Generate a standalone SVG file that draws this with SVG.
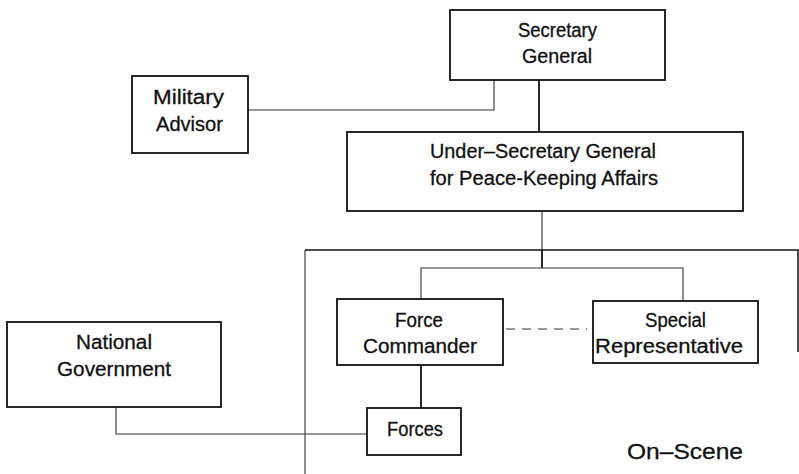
<svg xmlns="http://www.w3.org/2000/svg" width="799" height="474" viewBox="0 0 799 474">
<style>
.box{fill:#fff;stroke:#111;stroke-width:1.8}
.t{font-family:"Liberation Sans",Arial,sans-serif;font-size:20px;fill:#111;stroke:#111;stroke-width:0.3}
.c{fill:none;stroke:#333;stroke-width:1.1}
.ck{fill:none;stroke:#111;stroke-width:1.8}
</style>
<rect width="799" height="474" fill="#fff"/>
<g id="connectors">
<polyline class="c" points="248,110 494,110 494,80"/>
<line class="ck" x1="539" y1="80" x2="539" y2="132"/>
<line class="c" x1="542" y1="211" x2="542" y2="250"/>
<polyline class="c" points="305,474 305,250"/>
<polyline class="ck" points="305,250 798,250 798,352" style="stroke-width:1.5"/>
<line class="ck" x1="542" y1="250" x2="542" y2="268"/>
<polyline class="c" points="421,299 421,268 683,268 683,301"/>
<line class="c" x1="506" y1="329" x2="587" y2="329" stroke-dasharray="9,7"/>
<line class="ck" x1="421" y1="365" x2="421" y2="408"/>
<polyline class="c" points="116,407 116,434 367,434"/>
</g>
<g id="secretary-general">
<rect class="box" x="450" y="10" width="215" height="70"/>
<text class="t" x="518" y="37" textLength="79" lengthAdjust="spacingAndGlyphs">Secretary</text>
<text class="t" x="522" y="63" textLength="70" lengthAdjust="spacingAndGlyphs">General</text>
</g>
<g id="military-advisor">
<rect class="box" x="132" y="76" width="116" height="77"/>
<text class="t" x="153" y="104" textLength="71" lengthAdjust="spacingAndGlyphs">Military</text>
<text class="t" x="156" y="131" textLength="67" lengthAdjust="spacingAndGlyphs">Advisor</text>
</g>
<g id="under-secretary">
<rect class="box" x="347" y="132" width="396" height="79"/>
<text class="t" x="430" y="158" textLength="226" lengthAdjust="spacingAndGlyphs">Under–Secretary General</text>
<text class="t" x="430" y="185" textLength="228" lengthAdjust="spacingAndGlyphs">for Peace-Keeping Affairs</text>
</g>
<g id="force-commander">
<rect class="box" x="337" y="299" width="166" height="66"/>
<text class="t" x="395" y="327" textLength="48" lengthAdjust="spacingAndGlyphs">Force</text>
<text class="t" x="363" y="353" textLength="114" lengthAdjust="spacingAndGlyphs">Commander</text>
</g>
<g id="special-representative">
<rect class="box" x="593" y="301" width="165" height="62"/>
<text class="t" x="645" y="327" textLength="61" lengthAdjust="spacingAndGlyphs">Special</text>
<text class="t" x="595" y="353" textLength="148" lengthAdjust="spacingAndGlyphs">Representative</text>
</g>
<g id="national-government">
<rect class="box" x="7" y="322" width="214" height="85"/>
<text class="t" x="76" y="349" textLength="76" lengthAdjust="spacingAndGlyphs">National</text>
<text class="t" x="57" y="376" textLength="114" lengthAdjust="spacingAndGlyphs">Government</text>
</g>
<g id="forces">
<rect class="box" x="367" y="408" width="94" height="47"/>
<text class="t" x="387" y="436" textLength="56" lengthAdjust="spacingAndGlyphs">Forces</text>
</g>
<g id="on-scene-label">
<text class="t" x="627" y="459" style="font-size:22px" textLength="116" lengthAdjust="spacingAndGlyphs">On–Scene</text>
</g>
</svg>
